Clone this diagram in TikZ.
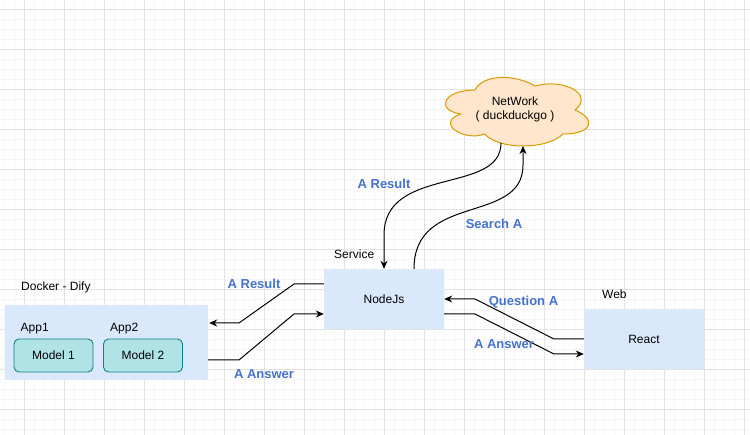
\documentclass[tikz,border=0pt]{standalone}
\usepackage{fontspec}
\setmainfont{Liberation Sans}
\usetikzlibrary{arrows.meta}
\definecolor{boxblue}{HTML}{DAE8FC}
\definecolor{modelfill}{HTML}{B0E3E6}
\definecolor{modeldraw}{HTML}{0E8088}
\definecolor{cloudfill}{HTML}{FFE6CC}
\definecolor{clouddraw}{HTML}{D79B00}
\definecolor{lblblue}{RGB}{68,114,206}
\definecolor{gridmajor}{HTML}{E2E2E2}
\definecolor{gridminor}{HTML}{F6F6F6}
\tikzset{
  txt/.style={inner sep=0pt, font=\fontsize{12}{14}\selectfont, text=black},
  lbl/.style={inner sep=0pt, font=\fontsize{13}{15}\selectfont\bfseries, text=lblblue},
  bluebox/.style={fill=boxblue, draw=none, inner sep=0pt, font=\fontsize{12}{14}\selectfont},
  modelbox/.style={fill=modelfill, draw=modeldraw, line width=0.9pt, rounded corners=5pt,
    minimum width=79pt, minimum height=33pt, inner sep=0pt, font=\fontsize{12}{14}\selectfont},
  arr/.style={draw=black, line width=1pt, -{Stealth[length=8pt,width=7pt]}},
}
\begin{document}
\begin{tikzpicture}[x=1pt,y=-1pt]
\useasboundingbox (0,0) rectangle (750,435);
\fill[white] (0,0) rectangle (750,435);
% grid
\foreach \i in {0,...,75} {\draw[gridminor, line width=0.8pt] (4.5+10*\i,0) -- (4.5+10*\i,435);}
\foreach \j in {0,...,44} {\draw[gridminor, line width=0.8pt] (0,-0.5+10*\j) -- (750,-0.5+10*\j);}
\foreach \i in {0,...,18} {\draw[gridmajor, line width=1pt] (24.5+40*\i,0) -- (24.5+40*\i,435);}
\foreach \j in {0,...,10} {\draw[gridmajor, line width=1pt] (0,9.5+40*\j) -- (750,9.5+40*\j);}

% cloud
\draw[fill=cloudfill, draw=clouddraw, line width=1pt]
  (475,90) .. controls (443,90) and (435,110) .. (460.6,114)
  .. controls (435,122.8) and (463.8,142) .. (484.6,134)
  .. controls (499,150) and (547,150) .. (563,134)
  .. controls (595,134) and (595,118) .. (575,110)
  .. controls (595,94) and (563,78) .. (535,86)
  .. controls (515,74) and (483,74) .. (475,90) -- cycle;
\node[txt, align=center] (cloud) at (515,109.5) {NetWork\\( duckduckgo )};
\coordinate (cA) at (501,143);
\coordinate (cB) at (523,146);

% boxes
\node[bluebox, minimum width=203pt, minimum height=75pt] (docker) at (106.5,342.5) {};
\node[txt, anchor=west] (dockerlbl) at (21,287) {Docker - Dify};
\node[txt, anchor=west] (app1) at (20.5,329) {App1};
\node[txt, anchor=west] (app2) at (110,329) {App2};
\node[modelbox] (m1) at (53.5,355.5) {Model 1};
\node[modelbox] (m2) at (143,355.5) {Model 2};

\node[bluebox, minimum width=120pt, minimum height=60pt] (nodejs) at (384,299) {NodeJs};
\node[txt, anchor=west] (service) at (334,254) {Service};

\node[bluebox, minimum width=120pt, minimum height=60pt] (react) at (644,339) {React};
\node[txt, anchor=west] (web) at (602,294) {Web};

% connectors
\coordinate (rb1) at (294,284);
\coordinate (rb2) at (239,323);
\draw[arr] ([yshift=15pt]nodejs.west) -- (rb1) -- (rb2) -- ([xshift=1pt]docker.east |- rb2);
\coordinate (ab1) at (239,360);
\coordinate (ab2) at (294,314);
\draw[arr] (docker.east |- ab1) -- (ab1) -- (ab2) -- ([yshift=-15pt]nodejs.west);
\coordinate (q1) at (554,339);
\coordinate (q2) at (475,299);
\draw[arr] (react.west) -- (q1) -- (q2) -- (nodejs.east);
\coordinate (aa1) at (475,314);
\coordinate (aa2) at (554,354);
\draw[arr] ([yshift=-15pt]nodejs.east) -- (aa1) -- (aa2) -- ([yshift=-15pt]react.west);
\draw[arr] (cA) .. controls (501,195) and (384,165) .. (384,235) -- (nodejs.north);
\draw[arr] ([xshift=30pt]nodejs.north) .. controls (414,192) and (523,225) .. (523,165) -- (cB);

% labels
\node[lbl] (l1) at (254,284) {A Result};
\node[lbl] (l2) at (264,374.5) {A Answer};
\node[lbl] (l3) at (523.5,302) {Question A};
\node[lbl] (l4) at (504,344) {A Answer};
\node[lbl] (l5) at (384,184) {A Result};
\node[lbl] (l6) at (494,224) {Search A};
\end{tikzpicture}
\end{document}
